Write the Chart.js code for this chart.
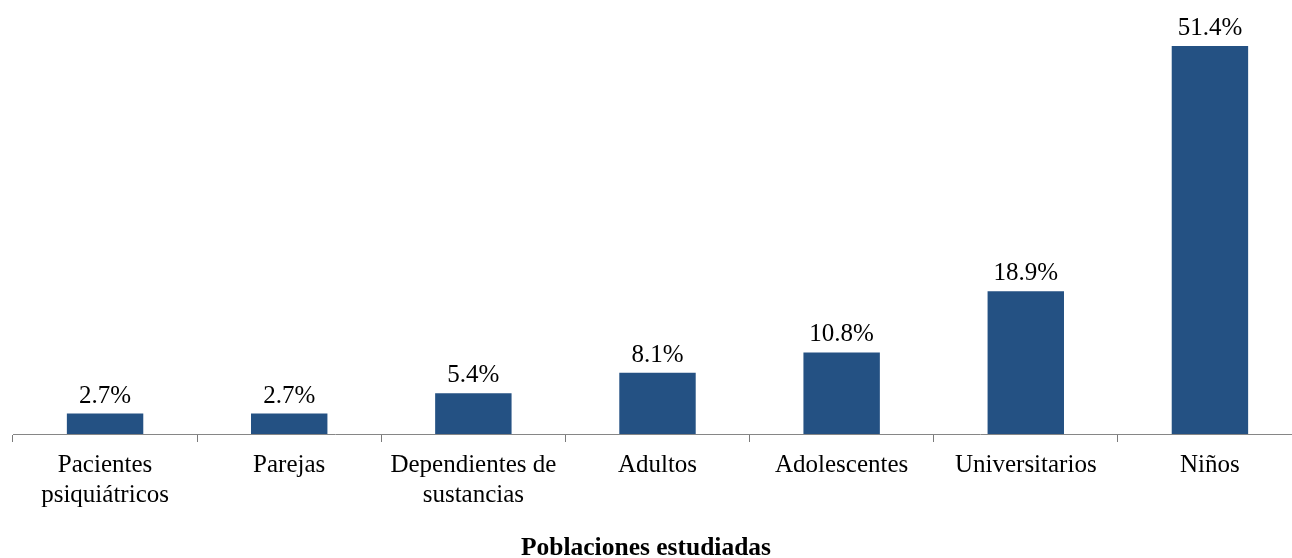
<!DOCTYPE html>
<html>
<head>
<meta charset="utf-8">
<script src="https://cdn.jsdelivr.net/npm/chart.js@4.4.1/dist/chart.umd.min.js"></script>
<style>
html,body{margin:0;padding:0;background:#fff;overflow:hidden;width:1292px;height:558px;}
#c{display:block;}
</style>
</head>
<body>
<canvas id="c" width="1302" height="558"></canvas>
<script>
const categories = [["Pacientes","psiquiátricos"],"Parejas",["Dependientes de","sustancias"],"Adultos","Adolescentes","Universitarios","Niños"];
const values = [2.7, 2.7, 5.4, 8.1, 10.8, 18.9, 51.4];
const axisTitle = "Poblaciones estudiadas";

const FONT = "'Liberation Serif', 'Times New Roman', serif";

const labelPlugin = {
  id: 'valueLabels',
  afterDatasetsDraw(chart) {
    const ctx = chart.ctx;
    const meta = chart.getDatasetMeta(0);
    ctx.save();
    ctx.font = "25px " + FONT;
    ctx.fillStyle = "#000";
    ctx.textAlign = "center";
    ctx.textBaseline = "alphabetic";
    meta.data.forEach((bar, i) => {
      ctx.fillText(values[i].toFixed(1) + "%", bar.x, bar.y - 11);
    });
    ctx.restore();
  }
};

const axisTitlePlugin = {
  id: 'axisTitleCentered',
  afterDraw(chart) {
    const ctx = chart.ctx;
    ctx.save();
    ctx.font = "bold 25.5px " + FONT;
    ctx.fillStyle = "#000";
    ctx.textAlign = "center";
    ctx.textBaseline = "alphabetic";
    ctx.fillText(axisTitle, 646, 555);
    ctx.restore();
  }
};

new Chart(document.getElementById('c'), {
  type: 'bar',
  data: {
    labels: categories,
    datasets: [{
      data: values,
      backgroundColor: '#245183',
      borderWidth: 0,
      categoryPercentage: 1.0,
      barPercentage: 0.415
    }]
  },
  options: {
    responsive: false,
    animation: false,
    devicePixelRatio: 1,
    layout: { padding: { left: 13, right: 0, top: 0, bottom: 0 } },
    plugins: { legend: { display: false }, tooltip: { enabled: false } },
    scales: {
      y: {
        display: false,
        min: 0,
        max: 57.5
      },
      x: {
        offset: true,
        grid: {
          offset: true,
          drawOnChartArea: false,
          drawTicks: true,
          tickLength: 8,
          color: '#7a7a7a'
        },
        border: { display: true, color: '#868686', width: 1 },
        ticks: {
          color: '#000',
          font: { family: FONT, size: 25, lineHeight: 1.22 },
          padding: 8,
          maxRotation: 0,
          autoSkip: false
        },
        title: { display: false },
        afterFit(scale) { scale.height = 124; }
      }
    }
  },
  plugins: [labelPlugin, axisTitlePlugin]
});
</script>
</body>
</html>
